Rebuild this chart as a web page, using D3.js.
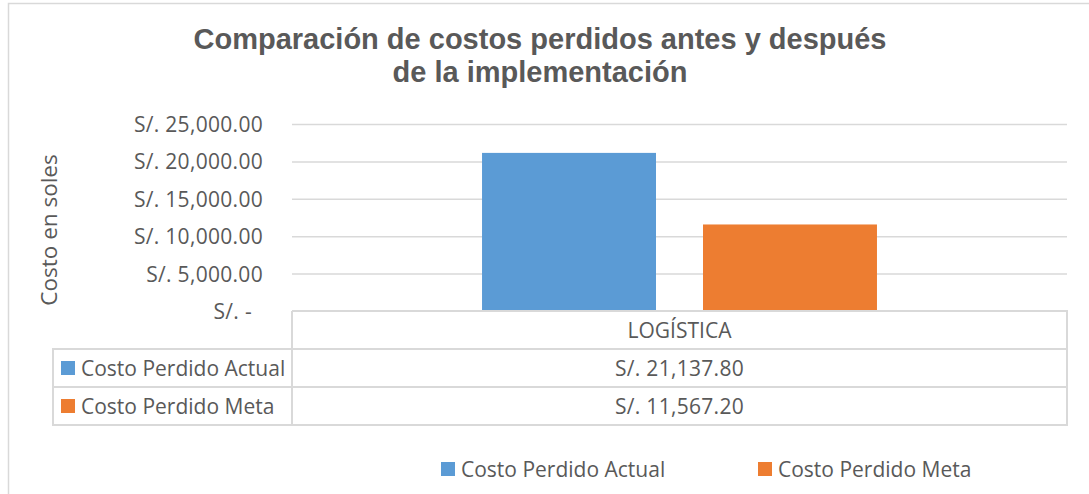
<!DOCTYPE html>
<html><head><meta charset="utf-8">
<script src="https://cdn.jsdelivr.net/npm/d3@7/dist/d3.min.js"></script>
<style>
html,body{margin:0;padding:0;background:#fff;}
svg{display:block;}
text{font-family:"Open Sans",sans-serif;fill:#595959;}
</style></head>
<body><svg id="c" width="1089" height="494"></svg>
<script>
const titleLines = ["Comparación de costos perdidos antes y después", "de la implementación"];
const yAxisTitle = "Costo en soles";
const categories = ["LOGÍSTICA"];
const seriesNames = ["Costo Perdido Actual", "Costo Perdido Meta"];
const seriesValues = [[21137.80], [11567.20]];
const valueLabels = [["S/. 21,137.80"], ["S/. 11,567.20"]];
const seriesColors = ["#5B9BD5", "#ED7D31"];
const yTicks = [0, 5000, 10000, 15000, 20000, 25000];
const yTickLabels = ["S/. -", "S/. 5,000.00", "S/. 10,000.00", "S/. 15,000.00", "S/. 20,000.00", "S/. 25,000.00"];

const svg = d3.select("#c");
const W = 1089, H = 494;
const plot = {left: 292, right: 1067, top: 124, bottom: 311};
const tableLeft = 53, rowH = 38;
const grid = "#d9d9d9";
const fs = "21px";

// outer chart border
svg.append("path").attr("d", `M8.5,${H} V3.5 H${W}`).attr("fill", "none").attr("stroke", grid).attr("stroke-width", 1.5);

// title
svg.append("g").selectAll("text").data(titleLines).join("text")
  .attr("x", 540).attr("y", (d, i) => 49 + i * 33)
  .attr("text-anchor", "middle")
  .style("font-family", "'Liberation Sans', Arial, sans-serif")
  .style("font-weight", "bold").style("font-size", "29px")
  .text(d => d);

const y = d3.scaleLinear().domain([0, 25000]).range([plot.bottom, plot.top]);
const x = d3.scaleBand().domain(categories).range([plot.left, plot.right]);
const xs = d3.scaleBand().domain(seriesNames).range([0, x.bandwidth()]).paddingInner(0.2127).paddingOuter(0.86);

// gridlines + labels via axis
const yAxis = d3.axisLeft(y).tickValues(yTicks)
  .tickFormat((d, i) => yTickLabels[i]).tickSize(-(plot.right - plot.left)).tickPadding(29);
const ga = svg.append("g").attr("transform", `translate(${plot.left},0)`).call(yAxis);
ga.select(".domain").remove();
ga.selectAll(".tick line").attr("stroke", grid).attr("stroke-width", 1.5)
  .filter(d => d === 0).remove();
ga.selectAll(".tick text").style("font-family", "'Open Sans',sans-serif").style("font-size", fs)
  .style("letter-spacing", "0.3px")
  .attr("fill", "#595959").attr("dy", "0.36em")
  .attr("dx", (d, i) => yTickLabels[i].trim().endsWith("-") ? -11 : 0);

// y-axis title
svg.append("text").attr("transform", `translate(57,230) rotate(-90)`)
  .attr("text-anchor", "middle").style("font-size", "22.5px").text(yAxisTitle);

// bars
seriesNames.forEach((s, si) => {
  svg.append("g").selectAll("rect").data(categories).join("rect")
    .attr("x", c => x(c) + xs(s)).attr("width", xs.bandwidth())
    .attr("y", (c, ci) => y(seriesValues[si][ci]))
    .attr("height", (c, ci) => y(0) - y(seriesValues[si][ci]))
    .attr("fill", seriesColors[si]);
});

// data table
const t = svg.append("g").attr("fill", "none").attr("stroke", grid).attr("stroke-width", 2);
const r0 = plot.bottom, r1 = r0 + rowH, r2 = r1 + rowH, r3 = r2 + rowH;
t.append("path").attr("d", `M${plot.left},${r0} H${plot.right} V${r3} H${tableLeft} V${r1} H${plot.right}`);
t.append("path").attr("d", `M${tableLeft},${r2} H${plot.right}`);
t.append("path").attr("d", `M${plot.left},${r0} V${r3}`);
categories.forEach(c => {
  svg.append("text").attr("x", x(c) + x.bandwidth() / 2).attr("y", r0 + rowH / 2)
    .attr("dy", "0.36em").attr("text-anchor", "middle").style("font-size", fs).text(c);
});
seriesNames.forEach((s, si) => {
  const ry = r1 + si * rowH;
  svg.append("rect").attr("x", 61).attr("y", ry + rowH / 2 - 7).attr("width", 14).attr("height", 14).attr("fill", seriesColors[si]);
  svg.append("text").attr("x", 81).attr("y", ry + rowH / 2).attr("dy", "0.36em").style("font-size", fs).text(s);
  categories.forEach((c, ci) => {
    svg.append("text").attr("x", x(c) + x.bandwidth() / 2).attr("y", ry + rowH / 2)
      .attr("dy", "0.36em").attr("text-anchor", "middle").style("font-size", fs)
      .style("letter-spacing", "0.3px").text(valueLabels[si][ci]);
  });
});

// legend
const legX = [441, 758];
const lg = svg.append("g").selectAll("g").data(seriesNames).join("g")
  .attr("transform", (d, i) => `translate(${legX[i]},469)`);
lg.append("rect").attr("x", 0).attr("y", -7).attr("width", 14).attr("height", 14).attr("fill", (d, i) => seriesColors[i]);
lg.append("text").attr("x", 20).attr("y", 0).attr("dy", "0.36em").style("font-size", fs).text(d => d);
</script></body></html>
